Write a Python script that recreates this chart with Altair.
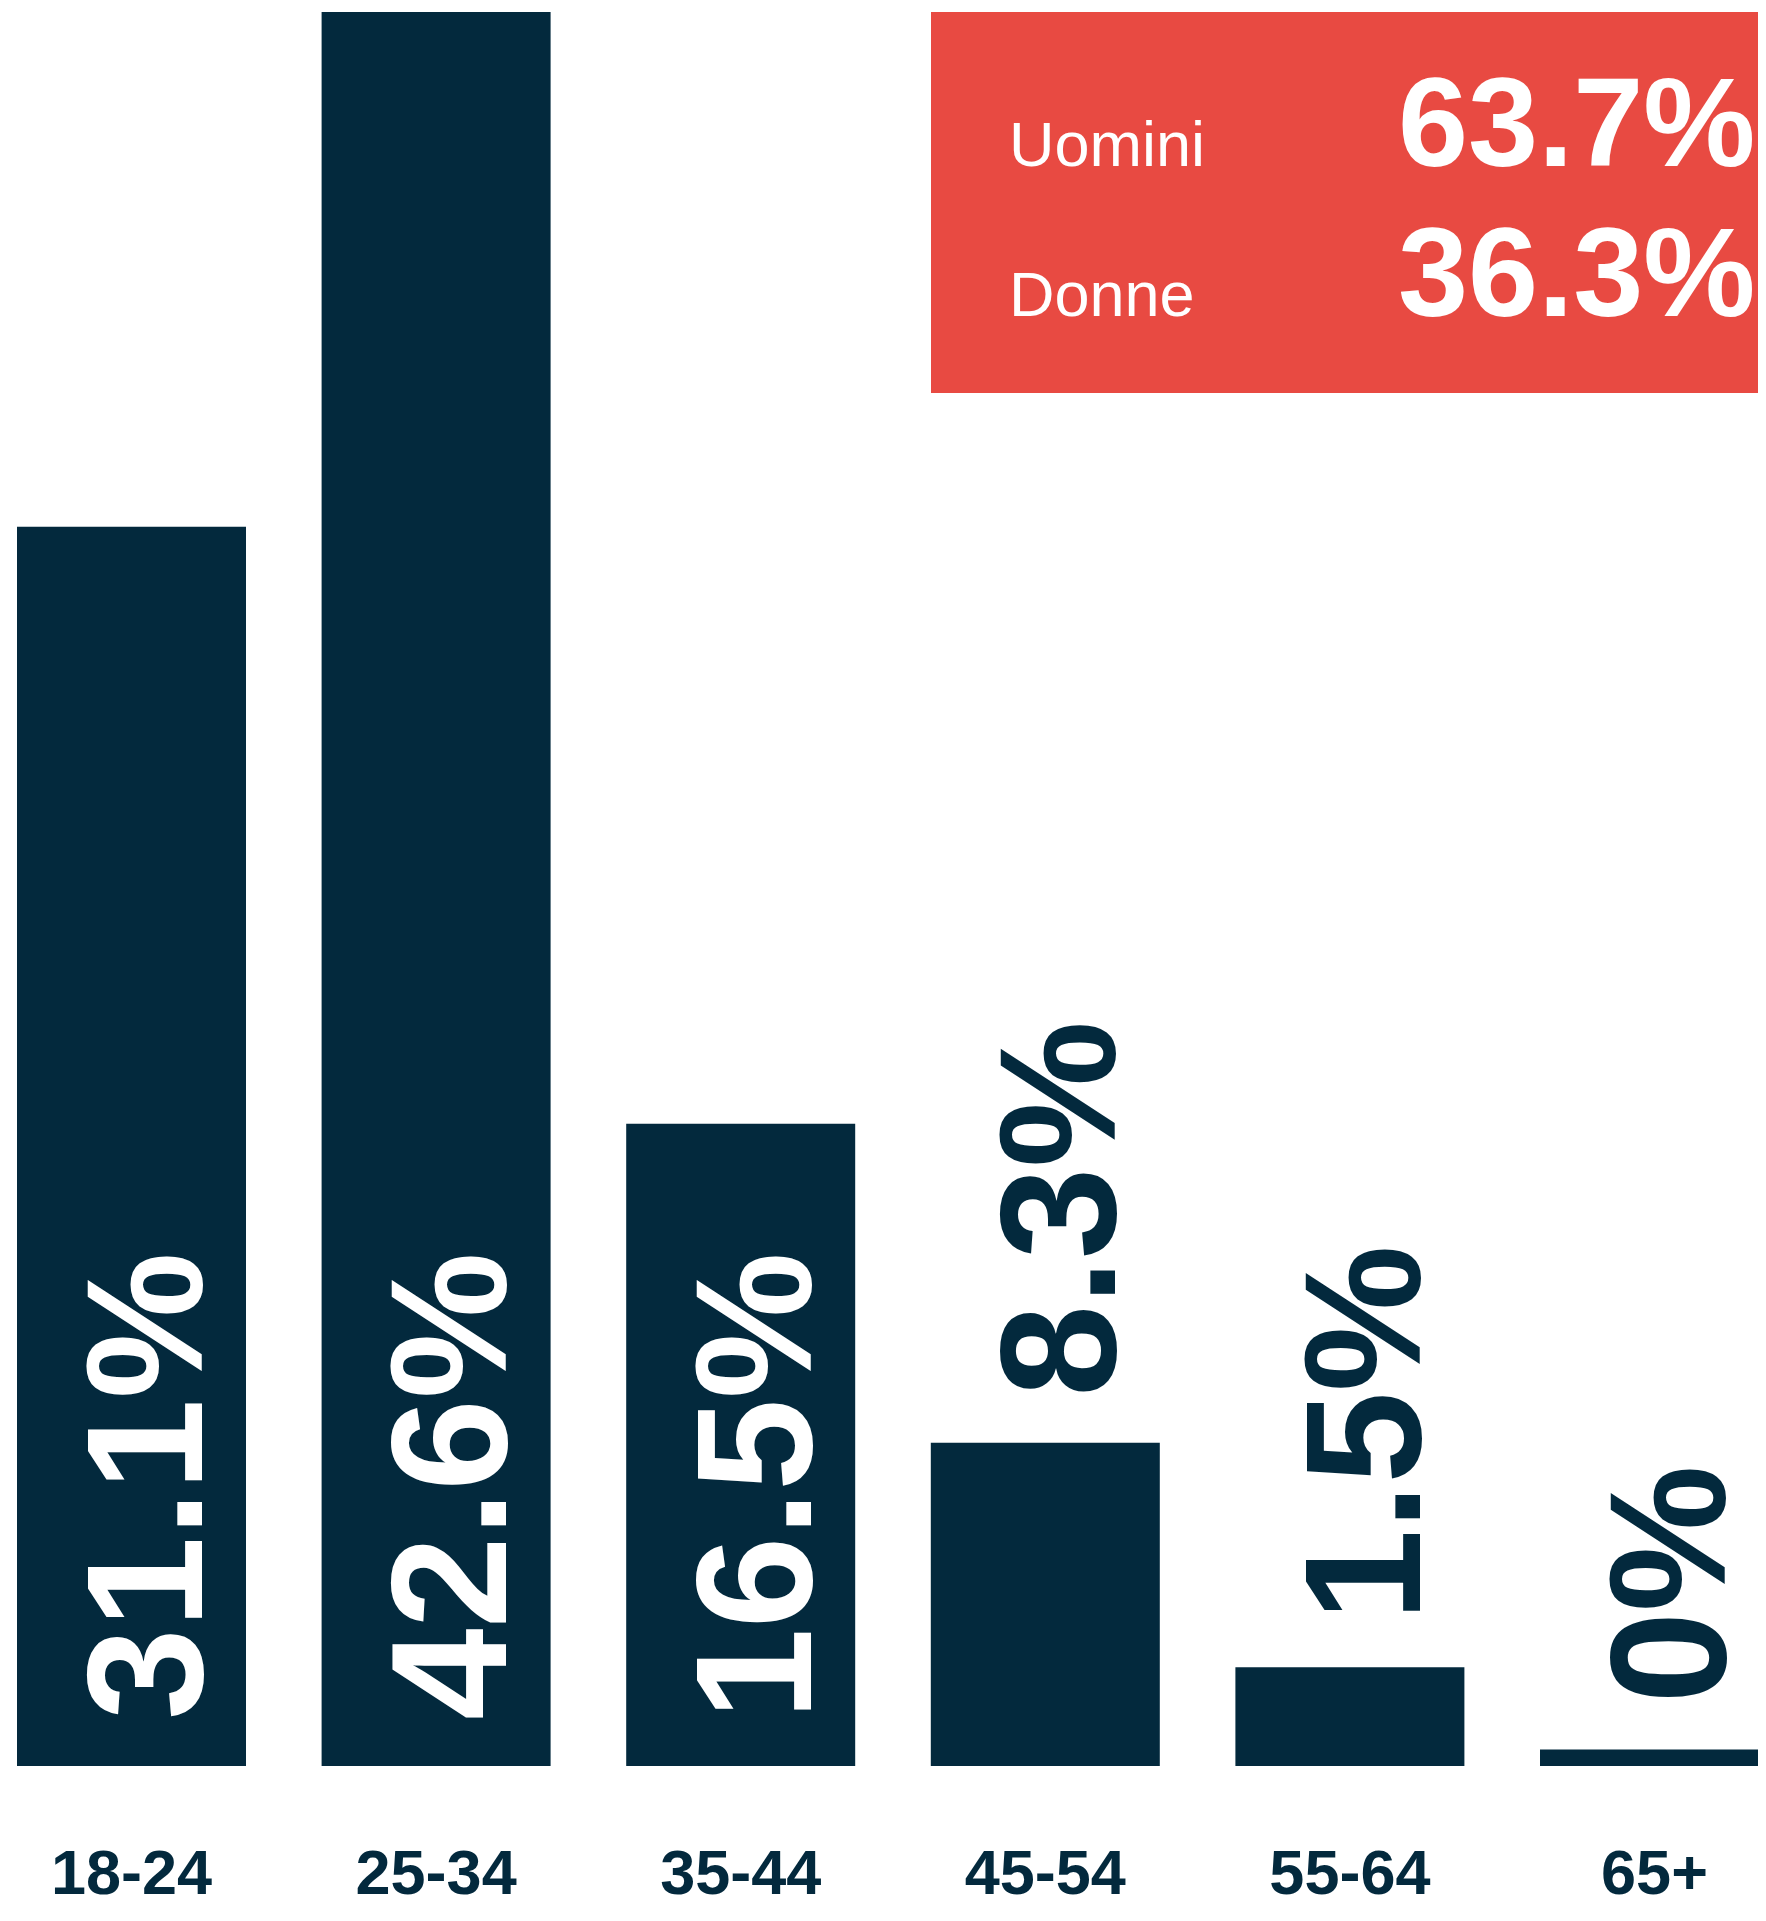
import altair as alt
import pandas as pd

# ---- data ----
age_groups = ["18-24", "25-34", "35-44", "45-54", "55-64", "65+"]
share_labels = ["31.1%", "42.6%", "16.5%", "8.3%", "1.5%", "0%"]
bar_heights = [30.1, 42.6, 15.6, 7.85, 2.4, 0.4]   # drawn bar lengths (percent units)
genders = ["Uomini", "Donne"]
gender_shares = ["63.7%", "36.3%"]

NAVY = "#03293D"
RED = "#E84A42"
FONT = "Liberation Sans"

inside = [h > 10 for h in bar_heights]
df = pd.DataFrame({
    "age": age_groups,
    "h": bar_heights,
    "label": share_labels,
    "anchor": [0 if i else h for i, h in zip(inside, bar_heights)],
    "color": ["#FFFFFF" if i else NAVY for i in inside],
})

x_enc = alt.X(
    "age:N", sort=age_groups,
    scale=alt.Scale(paddingInner=0.2482, paddingOuter=0.02955),
    axis=alt.Axis(title=None, labelAngle=0, labelFontSize=63, labelFont=FONT,
                  labelFontWeight="bold", labelColor=NAVY, labelBaseline="alphabetic",
                  labelPadding=127, ticks=False, tickSize=0, domain=False, grid=False,
                  labelLimit=600),
)
y_scale = alt.Scale(domain=[0, 42.70], nice=False, zero=True)

bars = alt.Chart(df).mark_bar(color=NAVY).encode(
    x=x_enc,
    y=alt.Y("h:Q", scale=y_scale, axis=None),
)

labels = alt.Chart(df).mark_text(
    angle=270, align="left", baseline="alphabetic", dx=46, dy=70,
    fontSize=165, font=FONT, fontWeight="bold",
).encode(
    x=alt.X("age:N", sort=age_groups),
    y=alt.Y("anchor:Q"),
    text="label:N",
    color=alt.Color("color:N", scale=None),
)

box_df = pd.DataFrame({"g": genders, "s": gender_shares})
box = alt.Chart(box_df).mark_rect(color=RED).encode(
    x=alt.value(923), x2=alt.value(1770), y=alt.value(4), y2=alt.value(385)
)

layers = [bars, labels, box]
row_y = [158, 308]
for g, s, yy in zip(genders, gender_shares, row_y):
    d = pd.DataFrame({"g": [g], "s": [s]})
    layers.append(
        alt.Chart(d).mark_text(align="left", baseline="alphabetic", fontSize=63,
                               font=FONT, color="#FFFFFF").encode(
            x=alt.value(1001), y=alt.value(yy), text="g:N")
    )
    layers.append(
        alt.Chart(d).mark_text(align="left", baseline="alphabetic", fontSize=126,
                               font=FONT, fontWeight="bold", color="#FFFFFF").encode(
            x=alt.value(1390), y=alt.value(yy), text="s:N")
    )

chart = alt.layer(*layers).properties(
    width=1770, height=1758,
    autosize=alt.AutoSizeParams(type="none"),
    padding={"left": 0, "top": 0, "right": -20, "bottom": 141},
    background="#FFFFFF",
).configure_view(stroke=None)

chart.save("out.html", embed_options={"renderer": "svg", "actions": False})
